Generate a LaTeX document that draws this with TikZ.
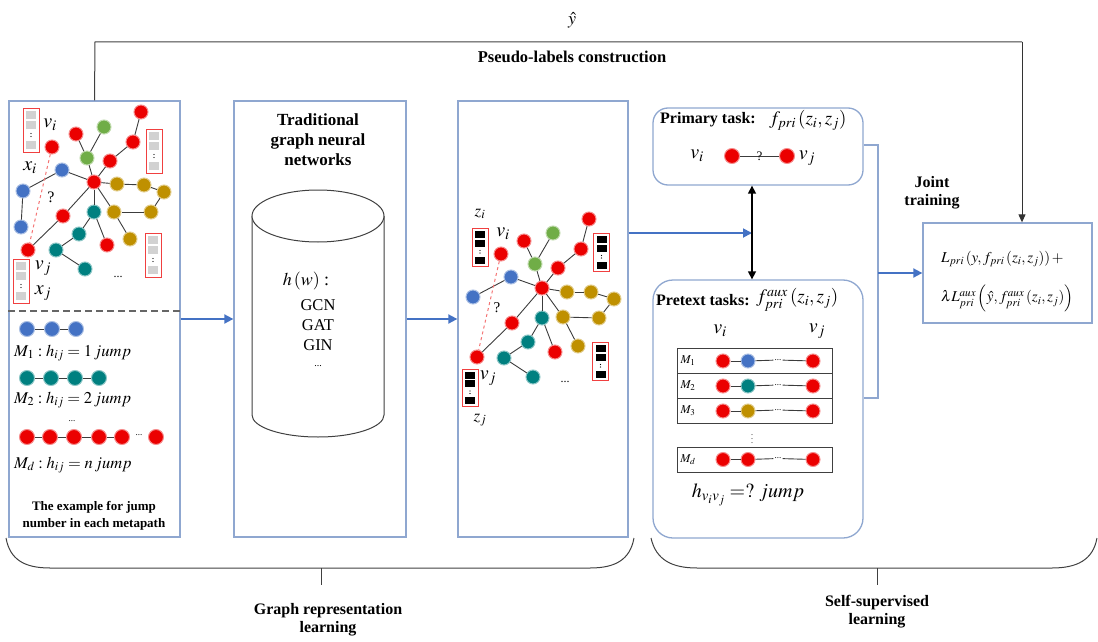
\documentclass[tikz,border=0pt]{standalone}
\usepackage{mathptmx}
\usepackage[no-math]{fontspec}
\setmainfont{Liberation Serif}
\usetikzlibrary{arrows.meta}
\definecolor{boxc}{RGB}{143,167,208}
\definecolor{arrc}{RGB}{68,114,196}
\definecolor{nred}{RGB}{235,0,0}
\definecolor{nblue}{RGB}{68,114,196}
\definecolor{ngreen}{RGB}{112,173,71}
\definecolor{ngold}{RGB}{191,144,0}
\definecolor{nteal}{RGB}{0,128,128}
\definecolor{edgec}{RGB}{60,60,60}
\newcommand\myfs[2]{\fontsize{#1}{#2}\selectfont}
\tikzset{
  pics/fvec/.style={code={
    \draw[draw=nred!75, line width=1pt, fill=white] (-8,-22) rectangle (8,22);
    \fill[#1] (-5,-19) rectangle (5,-11);
    \fill[#1] (-5,-9) rectangle (5,-1);
    \fill[black] (0,3.5) circle (0.7pt);
    \fill[black] (0,6.5) circle (0.7pt);
    \fill[#1] (-5,11) rectangle (5,19);
  }}
}
\begin{document}
\begin{tikzpicture}[x=1pt,y=-1pt,
  panel/.style={draw=boxc, line width=1.3pt, inner sep=0},
  gn/.style={circle, inner sep=0, minimum size=14pt, fill=#1, draw=#1!45, line width=1pt},
  ed/.style={draw=edgec, line width=0.9pt},
  barrow/.style={draw=arrc, line width=1.8pt, -{Triangle[length=9pt,width=9pt]}},
  karrow/.style={draw=black!80, line width=1pt, -{Triangle[length=8pt,width=7pt]}},
  conn/.style={draw=boxc, line width=1.2pt},
  bt/.style={font=\myfs{16}{18}\bfseries, align=center, inner sep=0},
  mt/.style={inner sep=0, font=\myfs{20}{22}},
  lt/.style={inner sep=0, font=\myfs{16.5}{19}, anchor=west},
]
\useasboundingbox (0,0) rectangle (1098,642);

% ---------- panels ----------
\node[panel, minimum width=171pt, minimum height=436pt] (lbox) at (94.5,319) {};
\node[panel, minimum width=172pt, minimum height=436pt] (mbox) at (320,319) {};
\node[panel, minimum width=170pt, minimum height=436pt] (gbox) at (543,319) {};
\node[panel, rounded corners=15pt, minimum width=210pt, minimum height=77pt] (ptask) at (758,146.5) {};
\node[panel, rounded corners=20pt, minimum width=210pt, minimum height=258pt] (xtask) at (758,409) {};
\node[panel, minimum width=169pt, minimum height=100pt] (fbox) at (1007.5,273) {};

% ---------- top loop ----------
\node[inner sep=0, font=\myfs{18}{20}] (yhat) at (572,20) {$\hat{y}$};
\node[bt, font=\myfs{16.5}{18}\bfseries] (pseudo) at (572,57) {Pseudo-labels construction};
\coordinate (tl) at (95,42);
\coordinate (tr) at (1022,42);
\draw[draw=black!75, line width=1pt] (lbox.north) -- (tl) -- (tr);
\draw[karrow] (tr) -- (tr |- fbox.north);

% ---------- left panel: graph ----------
\draw[dashed, draw=black!60, line width=1.3pt, dash pattern=on 7pt off 4pt] (lbox.west |- 0,311) -- (lbox.east |- 0,311);

\node[gn=nred] (aA) at (52,147) {};
\node[gn=nblue] (aB) at (62,170) {};
\node[gn=nblue] (aC) at (23,191) {};
\node[gn=nblue] (aD) at (21,227) {};
\node[gn=nred] (aE) at (28,250) {};
\node[gn=nred] (aF) at (63,216) {};
\node[gn=nred] (aG) at (94,182) {};
\node[gn=nred] (aH) at (76,134) {};
\node[gn=ngreen] (aI) at (104,127) {};
\node[gn=ngreen] (aJ) at (87,158) {};
\node[gn=nred] (aK) at (110,161) {};
\node[gn=nred] (aL) at (133,142) {};
\node[gn=nred] (aM) at (141,112) {};
\node[gn=ngold] (aN) at (117,184) {};
\node[gn=ngold] (aO) at (144,185) {};
\node[gn=ngold] (aP) at (164,192) {};
\node[gn=ngold] (aQ) at (151,212) {};
\node[gn=ngold] (aR) at (114,212) {};
\node[gn=ngold] (aS) at (130,239) {};
\node[gn=nteal] (aT) at (94,212) {};
\node[gn=nteal] (aU) at (79,234) {};
\node[gn=nteal] (aV) at (56,250) {};
\node[gn=nteal] (aW) at (85,269) {};
\node[gn=nred] (aX) at (107,245) {};
\foreach \u/\v in {B/C,C/D,B/G,E/F,F/G,G/J,J/H,J/I,G/K,K/L,L/M,G/N,N/O,O/P,P/Q,Q/R,G/R,R/S,G/T,T/U,U/V,V/W,T/X}
  \draw[ed] (a\u) -- (a\v);
\draw[dashed, draw=nred!55, line width=1pt] (aA) -- (aE);

\pic at (31,130) {fvec=gray!35};
\pic at (154,151) {fvec=gray!35};
\pic at (153,255) {fvec=gray!35};
\pic at (21,281) {fvec=gray!35};

\node[mt] (avi) at (50,125) {$v_i$};
\node[mt] (axi) at (30,168) {$x_i$};
\node[inner sep=0, font=\myfs{16}{18}] (aq) at (51,197) {?};
\node[mt] (avj) at (43,268) {$v_j$};
\node[mt] (axj) at (43,293) {$x_j$};
\node[inner sep=0, font=\myfs{12}{14}] (adots) at (118,277) {...};

% ---------- left panel: metapath examples ----------
\node[gn=nblue, minimum size=15pt] (m1a) at (27,329) {};
\node[gn=nblue, minimum size=15pt] (m1b) at (52,329) {};
\node[gn=nblue, minimum size=15pt] (m1c) at (76,329) {};
\draw[ed] (m1a) -- (m1b); \draw[ed] (m1b) -- (m1c);
\node[lt] (m1t) at (14,353) {$M_1 : h_{ij} = 1\,jump$};

\node[gn=nteal, minimum size=15pt] (m2a) at (27,378) {};
\node[gn=nteal, minimum size=15pt] (m2b) at (51,378) {};
\node[gn=nteal, minimum size=15pt] (m2c) at (75,378) {};
\node[gn=nteal, minimum size=15pt] (m2d) at (99,378) {};
\draw[ed] (m2a) -- (m2b); \draw[ed] (m2b) -- (m2c); \draw[ed] (m2c) -- (m2d);
\node[lt] (m2t) at (14,400) {$M_2 : h_{ij} = 2\,jump$};
\node[inner sep=0, font=\myfs{9}{10}] (mdots) at (72,421) {...};

\node[gn=nred, minimum size=15pt] (m3a) at (27,437) {};
\node[gn=nred, minimum size=15pt] (m3b) at (50,437) {};
\node[gn=nred, minimum size=15pt] (m3c) at (74,437) {};
\node[gn=nred, minimum size=15pt] (m3d) at (99,437) {};
\node[gn=nred, minimum size=15pt] (m3e) at (122,437) {};
\node[inner sep=1pt, font=\myfs{9}{10}] (m3x) at (139,435) {...};
\node[gn=nred, minimum size=15pt] (m3f) at (156,437) {};
\draw[ed] (m3a) -- (m3b); \draw[ed] (m3b) -- (m3c); \draw[ed] (m3c) -- (m3d); \draw[ed] (m3d) -- (m3e);
\node[lt] (m3t) at (14,465) {$M_d : h_{ij} = n\,jump$};
\node[bt, font=\myfs{13}{17}\bfseries] (cap) at (94,516) {The example for jump\\number in each metapath};

% ---------- middle panel ----------
\node[bt, font=\myfs{17}{20}\bfseries] (tgnn) at (318,140) {Traditional\\graph neural\\networks};
\draw[draw=black!75, line width=1pt, fill=white] (252,216) -- (252,415) arc[start angle=180, end angle=360, x radius=66pt, y radius=22pt] -- (384,216);
\draw[draw=black!75, line width=1pt, fill=white] (318,216) ellipse [x radius=66pt, y radius=26pt];
\node[inner sep=0, font=\myfs{18}{20}] (hw) at (306,281) {$h\left(w\right)$ :};
\node[inner sep=0, font=\myfs{16.5}{20}, align=center] (gnns) at (318,325) {GCN\\GAT\\GIN};
\node[inner sep=0, font=\myfs{10}{12}] (gdots) at (318,366) {...};

\draw[barrow] (lbox.east) -- (mbox.west);
\draw[barrow] (mbox.east) -- (gbox.west);

% ---------- third panel: graph with embeddings ----------
\node[gn=nred] (bA) at (501,254) {};
\node[gn=nblue] (bB) at (511,277) {};
\node[gn=nblue] (bC) at (473,297) {};
\node[gn=nred] (bE) at (477,357) {};
\node[gn=nred] (bF) at (512,323) {};
\node[gn=nred] (bG) at (542,288) {};
\node[gn=nred] (bH) at (524,241) {};
\node[gn=ngreen] (bI) at (553,233) {};
\node[gn=ngreen] (bJ) at (535,264) {};
\node[gn=nred] (bK) at (558,268) {};
\node[gn=nred] (bL) at (581,249) {};
\node[gn=nred] (bM) at (589,219) {};
\node[gn=ngold] (bN) at (567,292) {};
\node[gn=ngold] (bO) at (591,292) {};
\node[gn=ngold] (bP) at (614,299) {};
\node[gn=ngold] (bQ) at (599,318) {};
\node[gn=ngold] (bR) at (563,317) {};
\node[gn=ngold] (bS) at (578,346) {};
\node[gn=nteal] (bT) at (542,318) {};
\node[gn=nteal] (bU) at (528,342) {};
\node[gn=nteal] (bV) at (504,358) {};
\node[gn=nteal] (bW) at (533,377) {};
\node[gn=nred] (bX) at (555,352) {};
\foreach \u/\v in {B/C,B/G,E/F,F/G,G/J,J/H,J/I,G/K,K/L,L/M,G/N,N/O,O/P,P/Q,Q/R,G/R,R/S,G/T,T/U,U/V,V/W,T/X}
  \draw[ed] (b\u) -- (b\v);
\draw[dashed, draw=nred!55, line width=1pt] (bA) -- (bE);

\pic[yscale=0.86] at (480,247.5) {fvec=black};
\pic[yscale=0.86] at (601.5,252.5) {fvec=black};
\pic[yscale=0.86] at (600.5,361.5) {fvec=black};
\pic[yscale=0.86] at (470,388) {fvec=black};

\node[mt, font=\myfs{17}{19}] (bzi) at (480,214) {$z_i$};
\node[mt] (bvi) at (503,234) {$v_i$};
\node[inner sep=0, font=\myfs{15}{17}] (bq) at (497,308) {?};
\node[mt] (bvj) at (488,378) {$v_j$};
\node[mt, font=\myfs{17}{19}] (bzj) at (480,420) {$z_j$};
\node[inner sep=0, font=\myfs{12}{14}] (bdots) at (565,382) {...};

% ---------- primary task ----------
\node[bt, anchor=west] (ptt) at (660,120) {Primary task:};
\node[inner sep=0, anchor=west, font=\myfs{19}{21}] (ptf) at (769,120) {$f_{pri}\left(z_i, z_j\right)$};
\node[mt] (pvi) at (697,156) {$v_i$};
\node[gn=nred, minimum size=15pt] (p1) at (732,156) {};
\node[gn=nred, minimum size=15pt] (p2) at (787,156) {};
\draw[ed] (p1) -- node[inner sep=0, font=\myfs{13}{14}] {?} (p2);
\node[mt] (pvj) at (807,158) {$v_j$};

% ---------- pretext tasks ----------
\node[bt, anchor=west] (xtt) at (656,300) {Pretext tasks:};
\node[inner sep=0, anchor=west, font=\myfs{19}{21}] (xtf) at (756,300) {$f^{aux}_{pri}\left(z_i, z_j\right)$};
\node[mt] (xvi) at (720,331) {$v_i$};
\node[mt] (xvj) at (817,331) {$v_j$};
\foreach \k/\lab/\c/\y in {1/1/nblue/361, 2/2/nteal/386, 3/3/ngold/411, 4/d/nred/459.5}{
  \node[draw=black!75, line width=1pt, minimum width=155pt, minimum height=25pt, inner sep=0] (row\k) at (754.5,\y) {};
  \node[inner sep=0, font=\myfs{12}{13}] (rl\k) at (688,\y) {$M_{\lab}$};
  \node[gn=nred] (x\k-a) at (723,\y) {};
  \node[gn=\c] (x\k-b) at (748,\y) {};
  \node[inner sep=1pt, font=\myfs{9}{10}] (x\k-d) at (778,\y-1) {...};
  \node[gn=nred] (x\k-c) at (813,\y) {};
  \draw[ed] (x\k-a) -- (x\k-b);
  \draw[ed] (x\k-b) -- (x\k-d);
  \draw[ed] (x\k-d) -- (x\k-c);
}
\node[inner sep=0, font=\myfs{8}{9}] (xvd) at (752,436) {$\vdots$};
\node[inner sep=0, font=\myfs{20}{22}] (xh) at (748,495) {$h_{v_i v_j} = ?\ jump$};

% ---------- connectors on the right ----------
\coordinate (da) at (752,233);
\draw[barrow] (gbox.east |- da) -- (da);
\draw[draw=black, line width=1.5pt, {Triangle[length=8pt,width=8pt]}-{Triangle[length=8pt,width=8pt]}] (ptask.south -| da) -- (xtask.north -| da);
\coordinate (c1) at (878,145);
\coordinate (c2) at (878,398);
\draw[conn] (ptask.east |- c1) -- (c1) -- (c2) -- (xtask.east |- c2);
\draw[barrow] (c1 |- fbox.west) -- (fbox.west);
\node[bt] (joint) at (932,193) {Joint\\training};

% ---------- loss ----------
\node[inner sep=0, anchor=west, font=\myfs{15}{17}] (loss1) at (941,259) {$L_{pri}\left(y, f_{pri}\left(z_i, z_j\right)\right) +$};
\node[inner sep=0, anchor=west, font=\myfs{15}{17}] (loss2) at (941,298) {$\lambda L^{aux}_{pri}\left(\hat{y}, f^{aux}_{pri}\left(z_i, z_j\right)\right)$};

% ---------- bottom brackets ----------
\draw[draw=black!75, line width=1pt] (6,538) .. controls (10,560) and (25,568) .. (50,568) -- (590,568) .. controls (615,568) and (630,560) .. (634,538);
\coordinate (t1) at (321,568);
\draw[draw=black!75, line width=1pt] (t1) -- ++(0,17);
\node[bt] (grl) at (328,620) {Graph representation\\learning};
\draw[draw=black!75, line width=1pt] (651,538) .. controls (656,560) and (672,568) .. (697,568) -- (1052,568) .. controls (1077,568) and (1093,560) .. (1097,538);
\coordinate (t2) at (877,568);
\draw[draw=black!75, line width=1pt] (t2) -- ++(0,17);
\node[bt] (ssl) at (877,612) {Self-supervised\\learning};
\end{tikzpicture}
\end{document}
